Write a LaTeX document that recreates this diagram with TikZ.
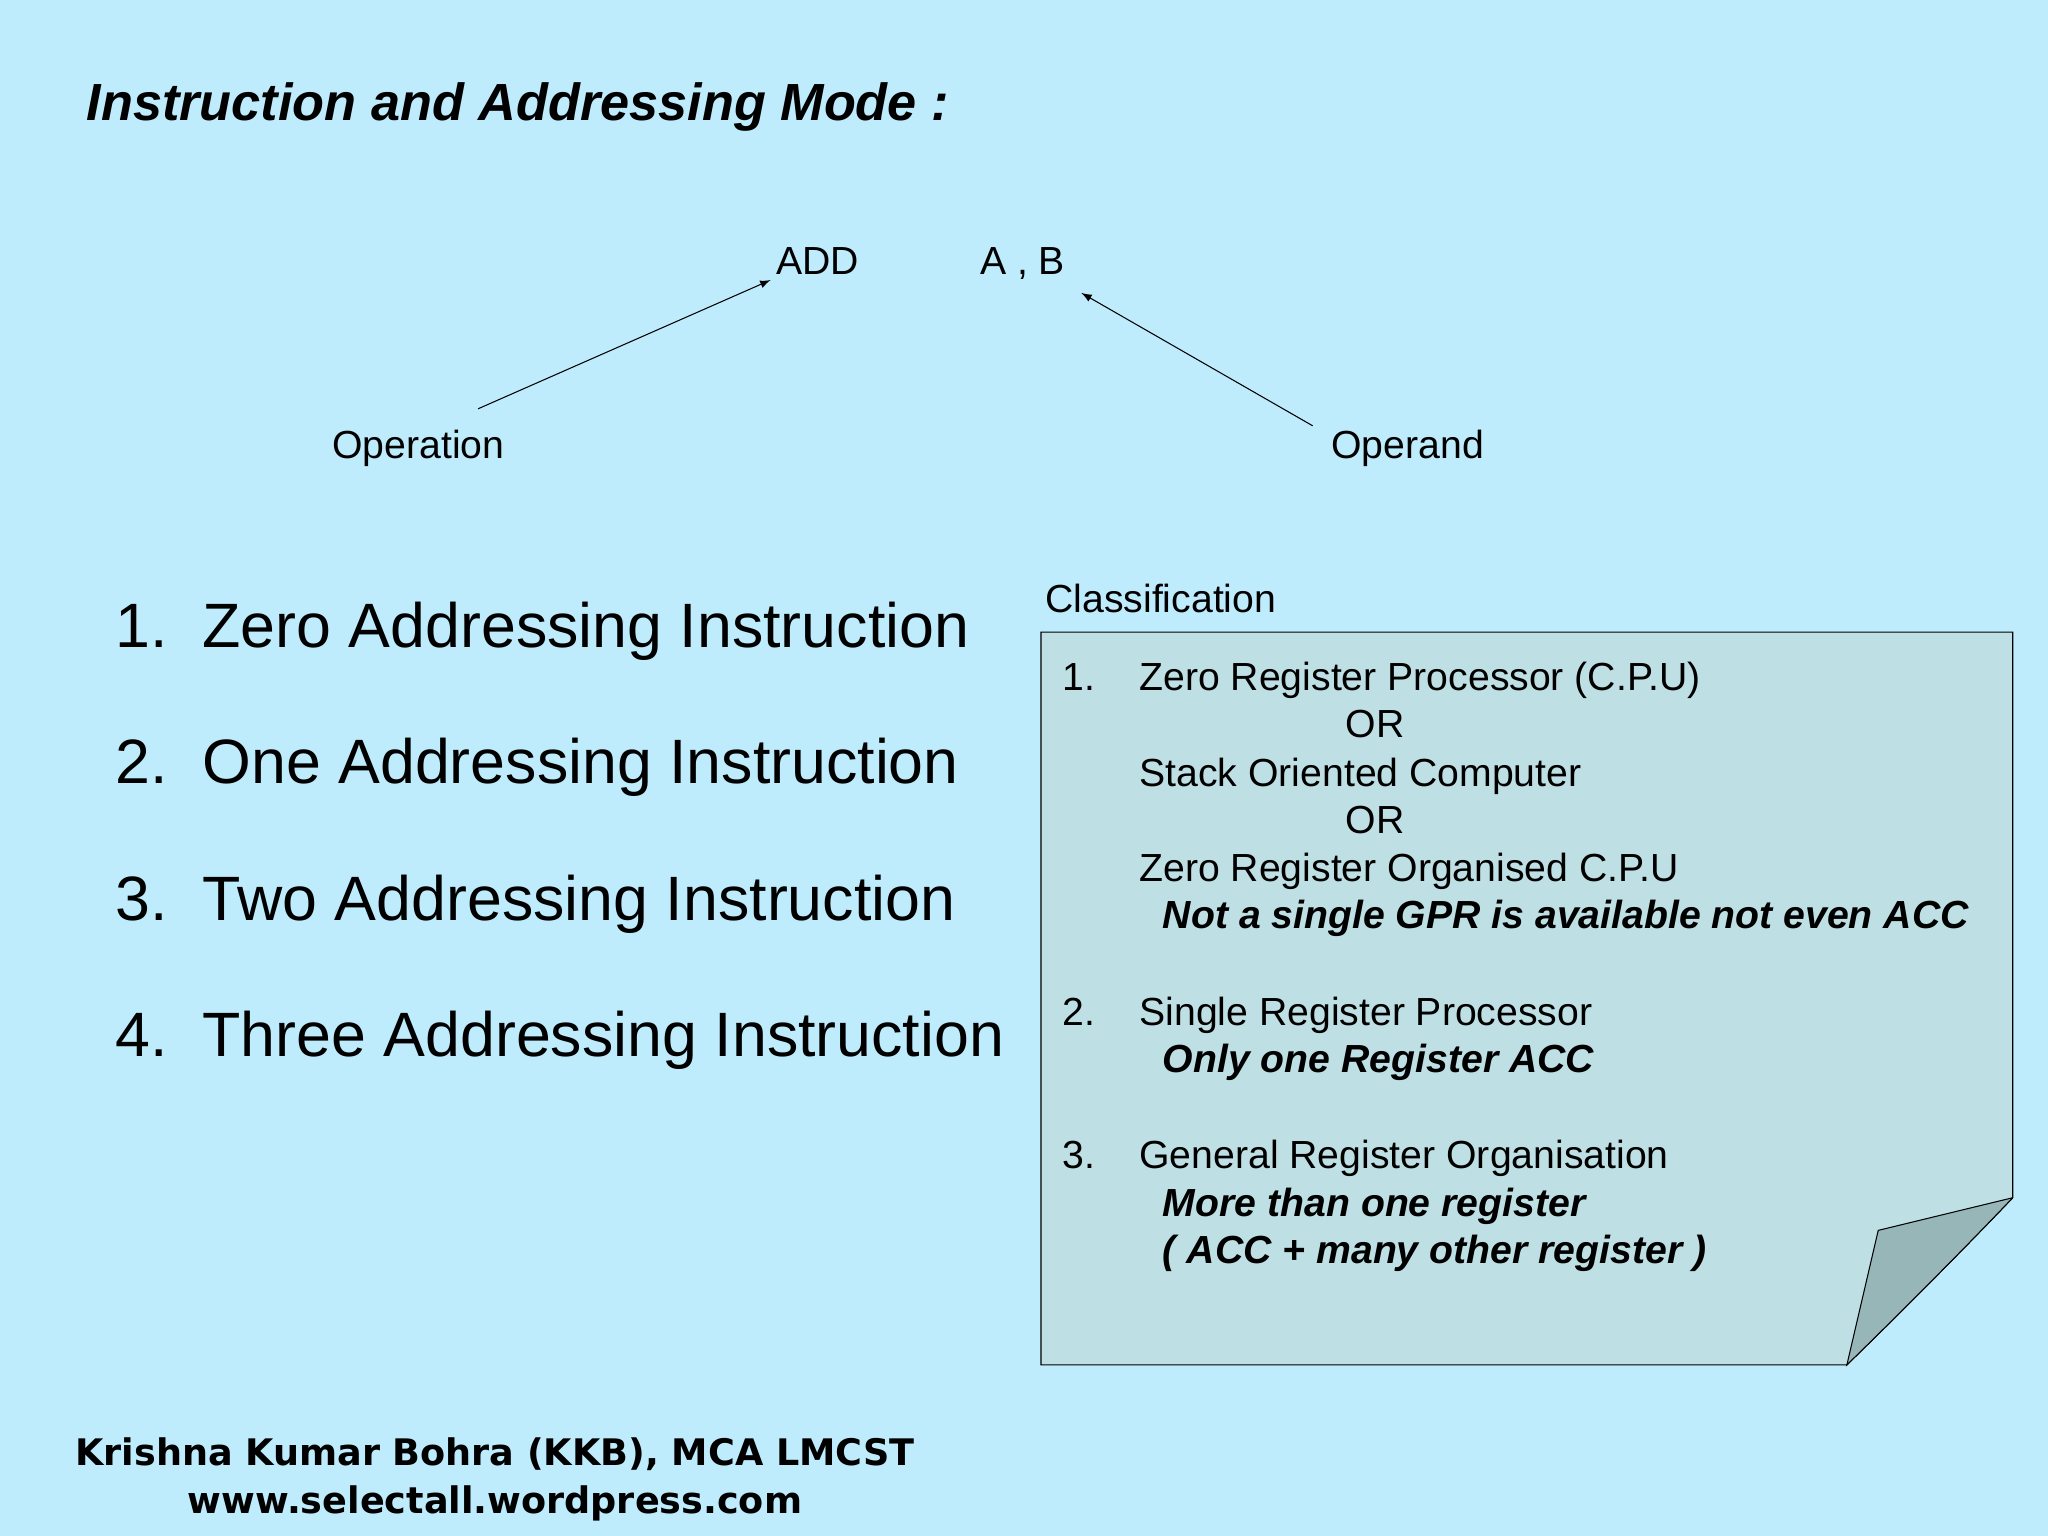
\documentclass[tikz,border=0pt]{standalone}
\usepackage{fontspec}
\setmainfont{Liberation Sans}
\newfontfamily\footfont{DejaVu Sans}
\usetikzlibrary{positioning,calc,arrows}

\definecolor{slidebg}{RGB}{190,236,252}
\definecolor{notefill}{RGB}{190,224,228}
\definecolor{foldfill}{RGB}{150,182,184}

\tikzset{
  txt/.style={anchor=base west, inner sep=2pt, font=\fontsize{15}{18}\selectfont},
  item/.style={anchor=base west, inner sep=0pt, font=\fontsize{24}{28}\selectfont},
  note/.style={anchor=base west, inner sep=0pt, font=\fontsize{15}{18}\selectfont},
  notebold/.style={note, font=\fontsize{15}{18}\selectfont\bfseries\itshape},
}

\begin{document}
\begin{tikzpicture}[x=0.5pt,y=-0.5pt]
  \fill[slidebg] (0,0) rectangle (1568,1176);
  \useasboundingbox (0,0) rectangle (1568,1176);

  % title
  \node[anchor=base west, inner sep=0pt, font=\fontsize{20}{24}\selectfont\bfseries\itshape]
    (title) at (66,92) {Instruction and Addressing Mode :};

  % instruction example
  \node[txt] (add) at (590,210) {ADD};
  \node[txt] (ab) at (746,210) {A , B};
  \node[txt] (op) at (250,351) {Operation};
  \node[txt] (opd) at (1015,351) {Operand};
  \coordinate (opTail) at (366,313);
  \coordinate (opdTail) at (1005,326);
  \draw[-latex] (opTail) -- (add.south west);
  \draw[-latex] (opdTail) -- ([xshift=4pt,yshift=-3pt]ab.south east);

  % list
  \node[item] (l1) at (88,496) {1.\ \ Zero Addressing Instruction};
  \node[item] (l2) at (88,600) {2.\ \ One Addressing Instruction};
  \node[item] (l3) at (88,705) {3.\ \ Two Addressing Instruction};
  \node[item] (l4) at (88,809) {4.\ \ Three Addressing Instruction};

  % classification note
  \node[note] (cls) at (800,469) {Classification};
  \draw[fill=notefill] (797,484) -- (1541,484) -- (1541,917)
    .. controls (1500,960) and (1450,1010) .. (1414,1045) -- (797,1045) -- cycle;
  \draw[fill=foldfill] (1541,917) -- (1438,942) -- (1414,1045)
    .. controls (1450,1010) and (1500,960) .. (1541,917);

  \node[note] (n1) at (813,529) {1.};
  \node[note] (c1) at (872,529) {Zero Register Processor (C.P.U)};
  \node[note] (or1) at (1030,565) {OR};
  \node[note] (c2) at (872,602) {Stack Oriented Computer};
  \node[note] (or2) at (1030,638) {OR};
  \node[note] (c3) at (872,675) {Zero Register Organised C.P.U};
  \node[notebold] (b1) at (890,711) {Not a single GPR is available not even ACC};
  \node[note] (n2) at (813,785) {2.};
  \node[note] (c4) at (872,785) {Single Register Processor};
  \node[notebold] (b2) at (890,821) {Only one Register ACC};
  \node[note] (n3) at (813,895) {3.};
  \node[note] (c5) at (872,895) {General Register Organisation};
  \node[notebold] (b3) at (890,931) {More than one register};
  \node[notebold] (b4) at (890,967) {( ACC + many other register )};

  % footer
  \node[anchor=base, inner sep=0pt, font=\footfont\fontsize{14}{17}\selectfont\bfseries]
    (f1) at (379,1122) {Krishna Kumar Bohra (KKB), MCA LMCST};
  \node[anchor=base, inner sep=0pt, font=\footfont\fontsize{14}{17}\selectfont\bfseries]
    (f2) at (379,1159) {www.selectall.wordpress.com};
\end{tikzpicture}
\end{document}
